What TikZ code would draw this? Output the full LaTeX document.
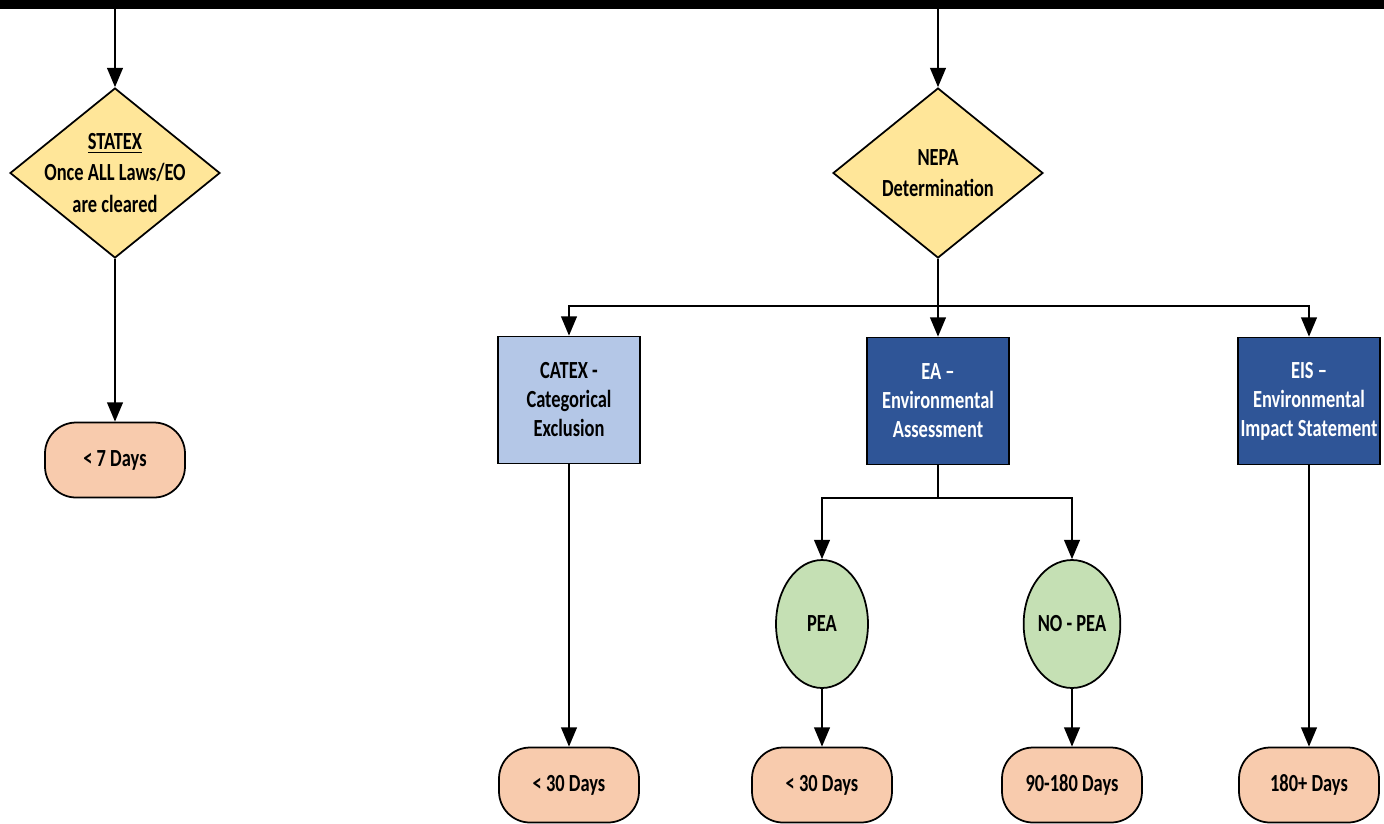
\documentclass[tikz,border=0pt]{standalone}
\usepackage{fontspec}
\setmainfont{Carlito}[FakeStretch=0.75]
\usetikzlibrary{shapes.geometric,arrows.meta}

\definecolor{decfill}{HTML}{FFE699}
\definecolor{daysfill}{HTML}{F8CBAD}
\definecolor{peafill}{HTML}{C5E0B4}
\definecolor{catexfill}{HTML}{B4C7E7}
\definecolor{envfill}{HTML}{2F5597}

\tikzset{
  arr/.style={-{Triangle[width=9pt,length=11pt]}, line width=1pt},
  decision/.style={diamond, draw, line width=1pt, fill=decfill, minimum width=4.2cm,
    minimum height=3.4cm, inner sep=-3mm, align=center,
    font=\bfseries\fontsize{14}{18}\selectfont},
  catexbox/.style={rectangle, draw, line width=1pt, fill=catexfill, minimum width=2.84cm,
    minimum height=2.54cm, inner xsep=1pt, align=center,
    font=\bfseries\fontsize{14}{16.5}\selectfont},
  envbox/.style={catexbox, fill=envfill, text=white},
  peanode/.style={ellipse, draw, line width=1pt, fill=peafill, minimum width=1.84cm,
    minimum height=2.56cm, inner sep=0pt, font=\bfseries\fontsize{14}{16}\selectfont},
  days/.style={rectangle, rounded corners=0.62cm, draw, line width=1pt, fill=daysfill,
    minimum width=2.8cm, minimum height=1.5cm, font=\bfseries\fontsize{14}{16}\selectfont}
}

\begin{document}
\begin{tikzpicture}[x=0.02cm, y=-0.02cm]
  \useasboundingbox (0,0) rectangle (1384,823);
  \fill (0,0) rectangle (1384,9);
  \coordinate (busL) at (115,9);
  \coordinate (busR) at (938,9);

  % left branch
  \node[decision] (statex) at (115,173) {\underline{STATEX}\\Once ALL Laws/EO\\are cleared};
  \node[days] (days7) at (115,460) {< 7 Days};
  \draw[arr] (busL) -- (statex.north);
  \draw[arr] (statex.south) -- (days7.north);

  % NEPA branch
  \node[decision] (nepa) at (938,173) {NEPA\\Determination};
  \draw[arr] (busR) -- (nepa.north);

  \node[catexbox] (catex) at (569,400) {CATEX -\\Categorical\\Exclusion};
  \node[envbox] (ea) at (938,401) {EA –\\Environmental\\Assessment};
  \node[envbox] (eis) at (1309,401) {EIS –\\Environmental\\Impact Statement};

  \coordinate (split) at (938,306);
  \draw[line width=1pt] (nepa.south) -- (split);
  \draw[arr] (split) -| (catex.north);
  \draw[arr] (split) -- (ea.north);
  \draw[arr] (split) -| (eis.north);

  \node[peanode] (pea) at (822,624) {PEA};
  \node[peanode] (nopea) at (1072,624) {NO - PEA};
  \coordinate (easplit) at (938,498);
  \draw[line width=1pt] (ea.south) -- (easplit);
  \draw[arr] (easplit) -| (pea.north);
  \draw[arr] (easplit) -| (nopea.north);

  \node[days] (days30a) at (569,785) {< 30 Days};
  \node[days] (days30b) at (822,785) {< 30 Days};
  \node[days] (days90) at (1072,785) {90-180 Days};
  \node[days] (days180) at (1309,785) {180+ Days};

  \draw[arr] (catex.south) -- (days30a.north);
  \draw[arr] (pea.south) -- (days30b.north);
  \draw[arr] (nopea.south) -- (days90.north);
  \draw[arr] (eis.south) -- (days180.north);
\end{tikzpicture}
\end{document}
